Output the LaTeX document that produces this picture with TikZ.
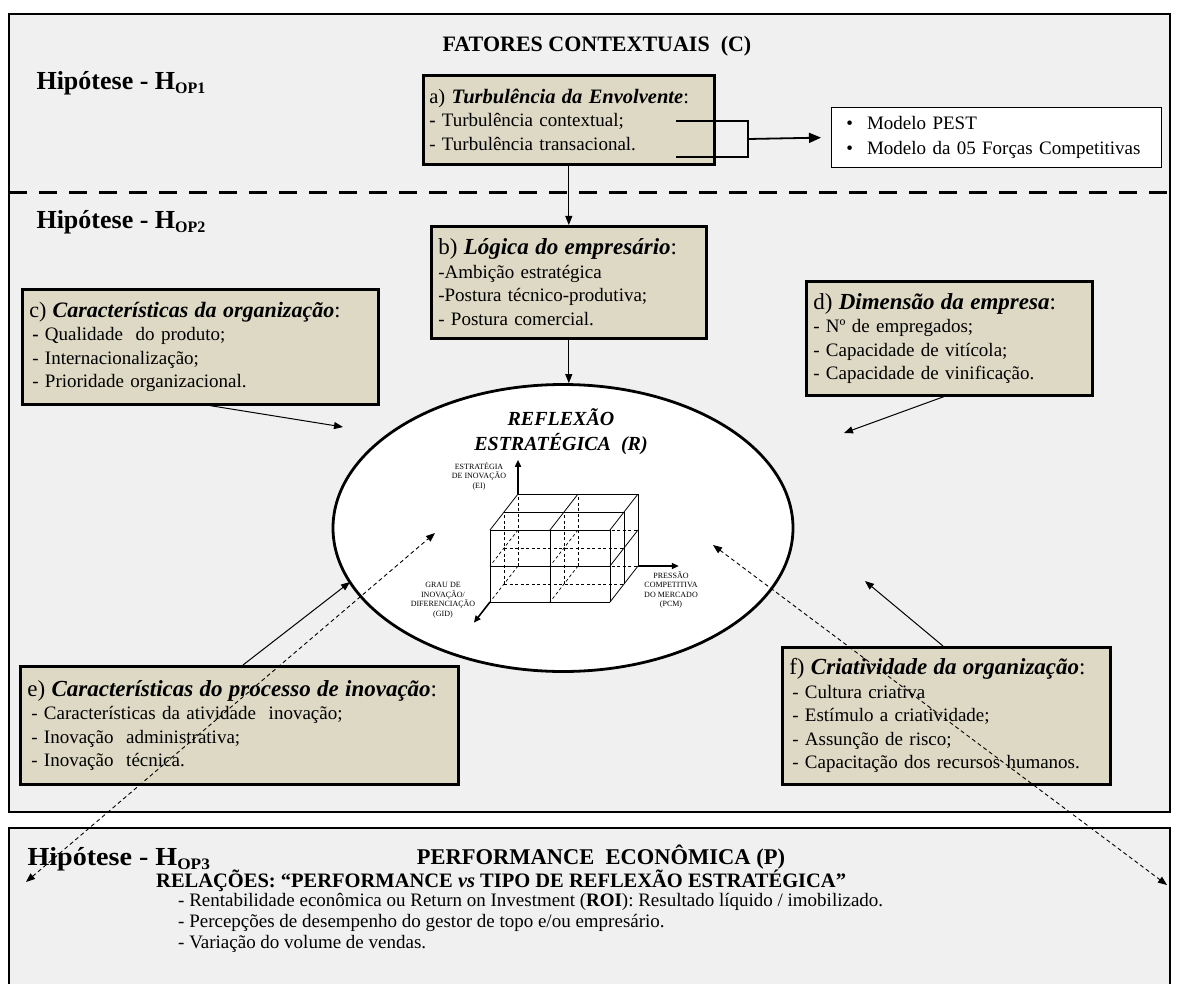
\documentclass[tikz,border=0pt]{standalone}
\usepackage{fontspec}
\setmainfont{Liberation Serif}
\usetikzlibrary{arrows.meta,shapes.geometric}
\definecolor{panel}{HTML}{F0F0F0}
\definecolor{tanfill}{HTML}{DDD9C4}
\newcommand{\ftitle}[3][23]{{\fontsize{#1}{26}\selectfont #2) \textbf{\textit{#3}}:}}
\newcommand{\hyp}[1]{\textbf{Hipótese - H\raisebox{-4pt}{\fontsize{16}{16}\selectfont #1}}}
\begin{document}
\begin{tikzpicture}[x=1pt,y=-1pt,
  frame/.style={draw=black,line width=2.6pt,fill=panel},
  factor/.style={draw=black,line width=2.6pt,fill=tanfill,anchor=north west,
    align=left,inner xsep=7pt,inner ysep=3pt,font=\fontsize{19}{23.5}\selectfont},
  hyplabel/.style={anchor=base west,font=\fontsize{26}{30}\selectfont},
  heading/.style={font=\fontsize{22}{24}\selectfont\bfseries},
  perfline/.style={anchor=base west,inner sep=0pt,font=\fontsize{19}{20}\selectfont},
  conn/.style={line width=1pt,-{Triangle[length=9pt,width=7pt]}},
  dconn/.style={line width=0.9pt,dash pattern=on 4pt off 3pt,
    {Triangle[length=9pt,width=7pt]}-{Triangle[length=9pt,width=7pt]}},
  axis/.style={line width=1.6pt,-{Triangle[length=7pt,width=6pt]}},
  grid/.style={line width=0.8pt},
  hidden/.style={line width=0.7pt,dash pattern=on 3pt off 2.5pt},
  axlabel/.style={align=center,font=\fontsize{8}{9.5}\selectfont}]
\useasboundingbox (0,0) rectangle (1177,984);
\fill[white] (0,0) rectangle (1177,984);

% ---- the two panels ----
\draw[frame] (9,14) rectangle (1170,812);
\draw[frame] (9,828) rectangle (1170,1010);
\draw[line width=3pt,dash pattern=on 18pt off 12pt] (9,193) -- (1170,193);

% ---- contextual factors ----
\node[heading] (ctitle) at (597,46) {FATORES CONTEXTUAIS\ \ (C)};
\node[hyplabel] (h1) at (33,90) {\hyp{OP1}};
\node[hyplabel] (h2) at (33,229) {\hyp{OP2}};

\node[factor,text width=279pt,inner xsep=6pt,minimum height=89pt] (a) at (422,74)
  {\ftitle[20.5]{a}{Turbulência da Envolvente}\\
   \textbf{-} Turbulência contextual;\\
   - Turbulência transacional.};

\node[draw=black,line width=0.9pt,fill=white,anchor=north west,
  minimum width=330pt,minimum height=60pt,text width=300pt,align=left,
  inner xsep=15pt,font=\fontsize{19}{25}\selectfont] (pest) at (831,107)
  {\textbullet\hspace{14pt}Modelo PEST\\
   \textbullet\hspace{14pt}Modelo da 05 Forças Competitivas};

% bracket joining the two turbulence items
\coordinate (brTop) at (676,121);
\coordinate (brBot) at (676,157);
\coordinate (brMid) at (748,139);
\draw[line width=2.6pt] (brTop) -- (748,121) -- (748,157) -- (brBot);
\draw[line width=1.8pt,-{Triangle[length=12pt,width=10pt]},shorten >=10pt] (brMid) -- (pest.west);

% ---- strategic factors ----
\node[factor,text width=261pt,minimum height=112pt] (b) at (430,225)
  {\ftitle{b}{Lógica do empresário}\\
   -Ambição estratégica\\
   -Postura técnico-produtiva;\\
   - Postura comercial.};

\node[factor,text width=342pt,minimum height=115pt] (c) at (21,288)
  {\ftitle[22]{c}{Características da organização}\\
   \hspace{3pt}\textbf{-} Qualidade\ \ do produto;\\
   \hspace{3pt}- Internacionalização;\\
   \hspace{3pt}- Prioridade organizacional.};

\node[factor,text width=272pt,minimum height=114pt] (d) at (805,280)
  {\ftitle{d}{Dimensão da empresa}\\
   - Nº de empregados;\\
   - Capacidade de vitícola;\\
   - Capacidade de vinificação.};

\node[factor,text width=424pt,minimum height=118pt] (e) at (19,665)
  {\ftitle{e}{Características do processo de inovação}\\
   \hspace{4pt}- Características da atividade\ \ inovação;\\
   \hspace{4pt}- Inovação\ \ administrativa;\\
   \hspace{4pt}- Inovação\ \ técnica.\\[-8pt]};

\node[factor,text width=314pt,minimum height=137pt] (f) at (781,646)
  {\ftitle{f}{Criatividade da organização}\\
   \hspace{3pt}- Cultura criativa\\
   \hspace{3pt}- Estímulo a criatividade;\\
   \hspace{3pt}- Assunção de risco;\\
   \hspace{3pt}- Capacitação dos recursos humanos.};

% ---- strategic reflection ----
\node[ellipse,draw=black,line width=2.8pt,fill=white,
  minimum width=460pt,minimum height=287pt] (R) at (563,528) {};
\node[align=center,font=\fontsize{20}{25}\selectfont\bfseries\itshape] (Rtitle) at (561,432)
  {REFLEXÃO\\ESTRATÉGICA\ \ (R)};

% three-axis grid of the reflection types
\begin{scope}[shift={(518,566)},x={(60pt,0pt)},y={(0pt,36pt)},z={(-14pt,-18pt)}]
  % hidden lines
  \foreach \k in {0,1}{
    \foreach \i in {0,1} \draw[hidden] (\i,0,\k) -- (\i,2,\k);
    \foreach \j in {0,1} \draw[hidden] (0,\j,\k) -- (2,\j,\k);
  }
  \foreach \i in {0,1} \foreach \j in {0,1} \draw[hidden] (\i,\j,0) -- (\i,\j,2);
  % visible front face
  \foreach \i in {0,1,2} \draw[grid] (\i,0,2) -- (\i,2,2);
  \foreach \j in {0,1,2} \draw[grid] (0,\j,2) -- (2,\j,2);
  % visible top face
  \foreach \k in {0,1} \draw[grid] (0,2,\k) -- (2,2,\k);
  \foreach \i in {0,1,2} \draw[grid] (\i,2,0) -- (\i,2,2);
  % visible right face
  \foreach \k in {0,1} \draw[grid] (2,0,\k) -- (2,2,\k);
  \foreach \j in {0,1} \draw[grid] (2,\j,0) -- (2,\j,2);
  % axes
  \draw[axis] (0,2,0) -- (0,2.95,0);
  \draw[axis] (2,0,0) -- (2.68,0,0);
  \draw[axis] (0,0,2) -- (0,0,3.15);
\end{scope}
\node[axlabel] (ei) at (479,476) {ESTRATÉGIA\\DE INOVAÇÃO\\(EI)};
\node[axlabel] (pcm) at (671,590) {PRESSÃO\\COMPETITIVA\\DO MERCADO\\(PCM)};
\node[axlabel] (gid) at (443,600) {GRAU DE\\INOVAÇÃO/\\DIFERENCIAÇÃO\\(GID)};

% ---- influences on the reflection ----
\coordinate (cTip) at (343,427);
\coordinate (dTip) at (844,433);
\coordinate (eTip) at (350,582);
\coordinate (fTip) at (865,581);
\draw[conn] (a.south) -- (b.north);
\draw[conn] (b.south) -- (R.north -| b.south);
\draw[conn] ([xshift=189pt]c.south west) -- (cTip);
\draw[conn] ([xshift=139pt]d.south west) -- (dTip);
\draw[conn] ([xshift=224pt]e.north west) -- (eTip);
\draw[conn] ([xshift=162pt]f.north west) -- (fTip);

% ---- economic performance ----
\node[hyplabel] (h3) at (24,865) {\scalebox{1.08}[1]{\hyp{OP3}}};
\node[font=\fontsize{22.5}{24}\selectfont\bfseries] (ptitle) at (601,857)
  {PERFORMANCE\ \ ECONÔMICA (P)};
\node[anchor=base west,inner sep=0pt,font=\fontsize{20.5}{22}\selectfont\bfseries] (rel) at (156,887)
  {RELAÇÕES: “PERFORMANCE \textit{vs} TIPO DE REFLEXÃO ESTRATÉGICA”};
\node[perfline] (perf1) at (178,906)
  {- Rentabilidade econômica ou Return on Investment (\textbf{ROI}): Resultado líquido / imobilizado.};
\node[perfline] (perf2) at (178,927)
  {- Percepções de desempenho do gestor de topo e/ou empresário.};
\node[perfline] (perf3) at (178,948)
  {- Variação do volume de vendas.};

% links between reflection and performance
\coordinate (eIn) at (435,533);
\coordinate (eOut) at (26,882);
\coordinate (fIn) at (713,545);
\coordinate (fOut) at (1167,885);
\draw[dconn] (eOut) -- (eIn);
\draw[dconn] (fIn) -- (fOut);
\end{tikzpicture}
\end{document}
